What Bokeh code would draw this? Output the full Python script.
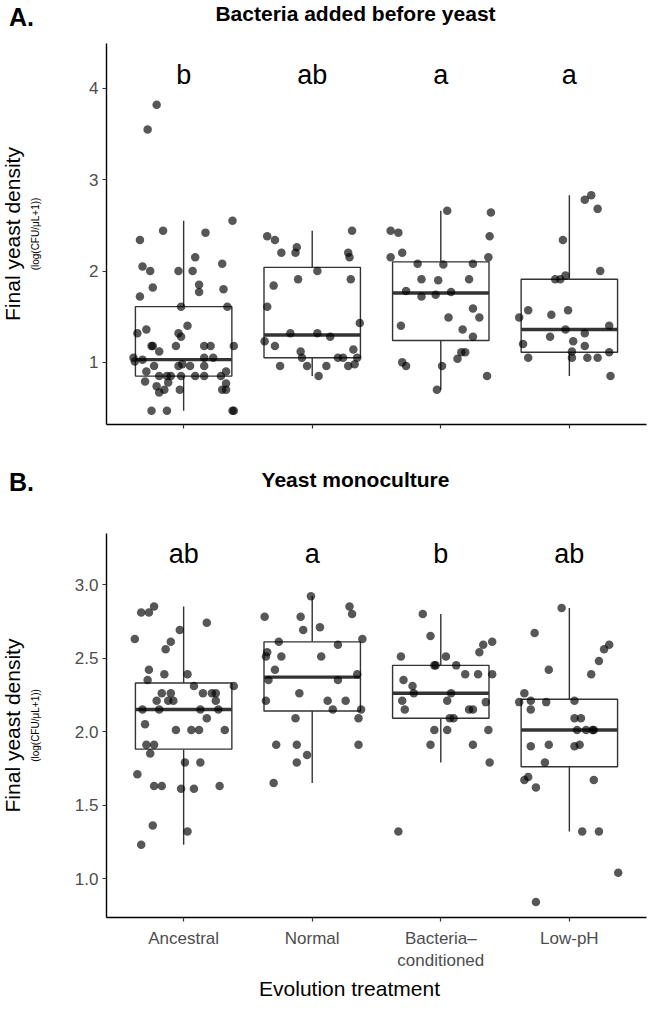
import math
from bokeh.plotting import figure
from bokeh.models import Range1d, FixedTicker
from bokeh.layouts import column, row
from bokeh.core.properties import value
from bokeh.embed import file_html
from bokeh.resources import INLINE

FONT = "Liberation Sans"

categories = ["Ancestral", "Normal", "Bacteria–conditioned", "Low-pH"]
tick_labels = ["Ancestral", "Normal", "Bacteria–\nconditioned", "Low-pH"]

# ---------------- Panel A: Bacteria added before yeast ----------------
a_letters = ["b", "ab", "a", "a"]
a_q1 = [0.85, 1.05, 1.24, 1.11]
a_med = [1.03, 1.30, 1.76, 1.36]
a_q3 = [1.61, 2.04, 2.10, 1.91]
a_lo = [0.47, 0.85, 0.70, 0.85]
a_hi = [2.55, 2.44, 2.66, 2.83]

a_anc_y = [3.82, 3.55, 2.55, 2.44, 2.34, 2.42, 2.15, 2.05, 2.00, 2.00, 2.00, 2.08,
           1.82, 1.85, 1.77, 1.80, 1.72, 1.61, 1.61, 1.40, 1.36, 1.32, 1.32, 1.28,
           1.18, 1.18, 1.12, 1.18, 1.18, 1.18, 1.18, 1.05, 1.01, 1.03, 1.05, 1.05,
           0.96, 0.96, 0.98, 0.96, 0.96, 0.90, 0.90, 0.85, 0.85, 0.85, 0.85, 0.85,
           0.85, 0.85, 0.79, 0.78, 0.74, 0.77, 0.67, 0.70, 0.70, 0.70, 0.70, 0.47,
           0.47, 0.47, 0.47]
a_anc_j = [-0.21, -0.28, 0.38, -0.16, -0.34, 0.17, 0.09, -0.32, -0.26, -0.04, 0.07, 0.30,
           -0.24, 0.12, 0.12, 0.31, -0.34, -0.02, 0.34, 0.03, -0.29, -0.36, -0.04, -0.02,
           -0.24, -0.25, -0.19, -0.06, 0.16, 0.21, 0.39, -0.39, -0.38, -0.32, 0.16, 0.23,
           -0.23, -0.04, -0.01, 0.05, 0.16, -0.29, 0.33, -0.19, -0.13, -0.10, -0.02, 0.09,
           0.16, 0.29, -0.30, -0.12, -0.21, 0.33, -0.19, -0.15, -0.03, 0.30, 0.33, -0.25,
           -0.13, 0.39, 0.38]

a_nor_y = [2.44, 2.38, 2.34, 2.20, 2.26, 2.20, 2.20, 2.15, 2.00, 1.91, 1.91, 1.84,
           1.61, 1.43, 1.32, 1.32, 1.28, 1.23, 1.18, 1.12, 1.05, 1.14, 1.05, 1.05,
           1.05, 0.96, 0.96, 0.96, 0.96, 0.98, 0.85]
a_nor_j = [0.31, -0.35, -0.29, -0.24, -0.12, -0.13, 0.28, 0.29, 0.04, -0.11, 0.30, -0.30,
           -0.35, 0.37, -0.17, 0.04, 0.14, -0.37, -0.29, -0.09, -0.08, 0.32, 0.20, 0.24,
           0.35, -0.25, -0.04, 0.11, 0.28, 0.33, 0.05]

a_bac_y = [2.66, 2.64, 2.44, 2.42, 2.38, 2.20, 2.15, 2.15, 2.08, 2.07, 2.08, 1.91,
           1.90, 1.91, 1.78, 1.72, 1.74, 1.77, 1.59, 1.49, 1.49, 1.40, 1.36, 1.28,
           1.11, 1.11, 1.04, 1.00, 0.96, 0.96, 0.85, 0.70]
a_bac_j = [0.05, 0.39, -0.39, -0.33, 0.38, -0.30, -0.39, 0.37, -0.18, 0.02, 0.25, -0.15,
           -0.02, 0.22, -0.27, -0.15, -0.04, 0.08, 0.25, 0.06, 0.30, -0.31, 0.17, 0.25,
           0.16, 0.19, 0.13, -0.30, -0.27, 0.01, 0.36, -0.03]

a_low_y = [2.83, 2.78, 2.68, 2.34, 2.00, 1.91, 1.91, 1.95, 1.49, 1.57, 1.52, 1.57,
           1.40, 1.36, 1.32, 1.28, 1.23, 1.20, 1.18, 1.12, 1.11, 1.05, 1.05, 1.05,
           1.05, 0.85]
a_low_j = [0.17, 0.12, 0.22, -0.05, 0.24, -0.11, -0.07, -0.03, -0.39, -0.32, -0.14, -0.01,
           0.31, -0.03, 0.12, -0.15, 0.03, -0.36, 0.12, 0.02, 0.31, -0.32, 0.02, 0.14,
           0.22, 0.32]

# ---------------- Panel B: Yeast monoculture ----------------
b_letters = ["ab", "a", "b", "ab"]
b_q1 = [1.88, 2.14, 2.09, 1.76]
b_med = [2.15, 2.37, 2.26, 2.01]
b_q3 = [2.33, 2.61, 2.45, 2.22]
b_lo = [1.23, 1.65, 1.79, 1.32]
b_hi = [2.85, 2.92, 2.80, 2.84]

b_anc_y = [2.85, 2.81, 2.81, 2.74, 2.69, 2.63, 2.61, 2.56, 2.42, 2.39, 2.39, 2.35,
           2.31, 2.31, 2.26, 2.26, 2.26, 2.26, 2.26, 2.21, 2.21, 2.21, 2.21, 2.15,
           2.15, 2.15, 2.15, 2.05, 2.09, 2.01, 2.01, 2.01, 2.01, 1.91, 1.91, 1.85,
           1.79, 1.79, 1.71, 1.63, 1.63, 1.61, 1.61, 1.63, 1.36, 1.32, 1.23]
b_anc_j = [-0.23, -0.27, -0.33, 0.18, -0.03, -0.38, -0.10, -0.14, -0.27, -0.15, 0.03, -0.28,
           0.08, 0.39, -0.17, -0.10, 0.15, 0.22, 0.25, -0.21, -0.12, -0.08, 0.25, -0.32,
           -0.19, 0.13, 0.27, -0.30, 0.18, -0.06, 0.06, 0.12, 0.32, -0.29, -0.23, -0.26,
           0.01, 0.13, -0.36, -0.23, -0.17, -0.02, 0.08, 0.28, -0.24, 0.03, -0.33]

b_nor_y = [2.92, 2.85, 2.80, 2.78, 2.78, 2.69, 2.71, 2.63, 2.61, 2.59, 2.54, 2.51,
           2.51, 2.51, 2.42, 2.39, 2.35, 2.35, 2.26, 2.21, 2.21, 2.21, 2.15, 2.15,
           2.09, 2.09, 1.91, 1.91, 1.91, 1.84, 1.79, 1.65]
b_nor_j = [-0.01, 0.29, 0.31, -0.37, -0.09, -0.07, 0.06, 0.39, -0.26, 0.20, -0.35, -0.36,
           -0.24, 0.07, -0.29, 0.35, -0.34, 0.20, -0.10, -0.36, 0.12, 0.26, 0.38, 0.16,
           0.36, -0.13, -0.28, -0.12, 0.36, -0.04, -0.12, -0.30]

b_bac_y = [2.80, 2.65, 2.61, 2.59, 2.54, 2.51, 2.51, 2.45, 2.45, 2.45, 2.39, 2.39,
           2.39, 2.35, 2.31, 2.26, 2.26, 2.21, 2.21, 2.20, 2.15, 2.15, 2.15, 2.09,
           2.09, 2.01, 2.01, 2.01, 1.91, 1.91, 1.79, 1.32]
b_bac_j = [-0.14, -0.08, 0.40, 0.33, 0.30, -0.31, 0.04, -0.05, -0.04, 0.12, 0.19, 0.29,
           0.40, -0.29, -0.22, -0.21, 0.08, -0.30, 0.05, 0.35, -0.28, 0.22, 0.25, 0.07,
           0.10, -0.05, 0.05, 0.37, -0.08, 0.25, 0.38, -0.33]

b_low_y = [2.84, 2.67, 2.59, 2.56, 2.48, 2.42, 2.39, 2.26, 2.20, 2.21, 2.20, 2.21,
           2.15, 2.09, 2.09, 2.01, 2.01, 2.01, 2.01, 1.90, 1.91, 1.90, 1.91, 1.79,
           1.67, 1.69, 1.62, 1.67, 1.32, 1.32, 1.04, 0.84]
b_low_j = [-0.06, -0.27, 0.31, 0.27, 0.23, -0.16, 0.17, -0.35, -0.39, -0.30, -0.18, 0.04,
           -0.30, 0.04, 0.09, 0.06, 0.13, 0.18, 0.19, -0.30, -0.16, 0.04, 0.08, -0.19,
           -0.35, -0.32, -0.26, 0.19, 0.10, 0.23, 0.38, -0.26]

BOX_W = 0.75
W = 650
YLAB_W = 50
Y_TITLE = "Final yeast density"
Y_SUB = "(log(CFU/μL+1))"


def blank(width, height, y_start, y_end, bottom_border=0):
    f = figure(width=width, height=height, output_backend="svg", toolbar_location=None,
               x_axis_type=None, y_axis_type=None, title=None,
               x_range=Range1d(0, width), y_range=Range1d(y_start, y_end),
               min_border=0, min_border_left=0, min_border_right=0,
               min_border_top=0, min_border_bottom=bottom_border)
    f.outline_line_color = None
    f.xgrid.visible = False
    f.ygrid.visible = False
    return f


def put(f, x, y, text, size, bold=False, angle=0.0):
    f.text(x=[x], y=[y], text=[text], text_font=value(FONT), text_font_size=size,
           text_font_style="bold" if bold else "normal", text_align="center",
           text_baseline="middle", angle=angle, text_color="black")


def header(height, tag, title, tag_y, title_y):
    f = blank(W, height, height, 0)
    put(f, 21, tag_y, tag, "25px", bold=True)
    put(f, 355, title_y, title, "21px", bold=True)
    return f


def ylab(height, bottom_border, y_start, y_end):
    # same vertical frame as its panel, so the titles sit at the panel centre
    f = blank(YLAB_W, height, y_start, y_end, bottom_border)
    mid = (y_start + y_end) / 2
    put(f, 12, mid, Y_TITLE, "21px", angle=math.pi / 2)
    put(f, 35, mid, Y_SUB, "10px", angle=math.pi / 2)
    return f


def make_panel(height, bottom_border, y_start, y_end, y_ticks, y_fmt,
               points, q1, med, q3, lo, hi, letters, letter_y, show_xlabels):
    p = figure(width=W - YLAB_W, height=height, output_backend="svg", toolbar_location=None,
               title=None, x_range=Range1d(0.4, 4.6), y_range=Range1d(y_start, y_end),
               min_border_left=106 - YLAB_W, min_border_right=4,
               min_border_top=0, min_border_bottom=bottom_border)
    p.outline_line_color = None
    p.xgrid.visible = False
    p.ygrid.visible = False
    xs = [i + 1 for i in range(len(categories))]

    p.segment(x0=xs, y0=q3, x1=xs, y1=hi, line_color="#333333", line_width=1.4)
    p.segment(x0=xs, y0=lo, x1=xs, y1=q1, line_color="#333333", line_width=1.4)
    p.quad(left=[x - BOX_W / 2 for x in xs], right=[x + BOX_W / 2 for x in xs],
           bottom=q1, top=q3, fill_color="white", line_color="#333333", line_width=1.4)
    p.segment(x0=[x - BOX_W / 2 for x in xs], y0=med, x1=[x + BOX_W / 2 for x in xs],
              y1=med, line_color="#333333", line_width=3.4)
    for i, (ys, js) in enumerate(points):
        p.scatter(x=[i + 1 + j for j in js], y=ys, size=8.5, fill_color="black",
                  fill_alpha=0.66, line_color=None)
    p.text(x=xs, y=[letter_y] * len(xs), text=letters, text_align="center",
           text_baseline="middle", text_font=value(FONT), text_font_size="27px",
           text_color="black")

    for ax in (p.xaxis[0], p.yaxis[0]):
        ax.axis_line_color = "black"
        ax.axis_line_width = 1.4
        ax.major_tick_line_color = "#333333"
        ax.major_tick_line_width = 1.2
        ax.major_tick_out = 4
        ax.major_tick_in = 0
        ax.minor_tick_line_color = None
        ax.major_label_text_font = FONT
        ax.major_label_text_font_size = "17px"
        ax.major_label_text_color = "#4d4d4d"
    p.xaxis.ticker = FixedTicker(ticks=xs)
    if show_xlabels:
        p.xaxis.major_label_overrides = {x: lab for x, lab in zip(xs, tick_labels)}
    else:
        p.xaxis.major_label_overrides = {x: "" for x in xs}
    p.xaxis.major_label_standoff = 7
    p.yaxis.ticker = FixedTicker(ticks=y_ticks)
    p.yaxis.major_label_overrides = {t: y_fmt.format(t) for t in y_ticks}
    p.yaxis.major_label_standoff = 4
    return p


# page layout (pixels from top): header A 0-43, panel A 43-452, header B 452-533,
# panel B 533-975, footer 975-1012
A_RANGE = (0.32, 4.49)
B_RANGE = (0.735, 3.347)

headA = header(43, "A.", "Bacteria added before yeast", 16, 13)
pA = make_panel(409, 28, *A_RANGE, [1, 2, 3, 4], "{:g}",
                [(a_anc_y, a_anc_j), (a_nor_y, a_nor_j), (a_bac_y, a_bac_j), (a_low_y, a_low_j)],
                a_q1, a_med, a_q3, a_lo, a_hi, a_letters, 4.14, False)
ylabA = ylab(409, 28, *A_RANGE)

headB = header(81, "B.", "Yeast monoculture", 29, 27)
pB = make_panel(442, 58, *B_RANGE, [1.0, 1.5, 2.0, 2.5, 3.0], "{:.1f}",
                [(b_anc_y, b_anc_j), (b_nor_y, b_nor_j), (b_bac_y, b_bac_j), (b_low_y, b_low_j)],
                b_q1, b_med, b_q3, b_lo, b_hi, b_letters, 3.21, True)
ylabB = ylab(442, 58, *B_RANGE)

foot = blank(W, 37, 37, 0)
put(foot, 349, 13, "Evolution treatment", "21px")

layout = column(headA, row(ylabA, pA, spacing=0), headB, row(ylabB, pB, spacing=0), foot,
                spacing=0)
open("out.html", "w").write(file_html(layout, INLINE))
